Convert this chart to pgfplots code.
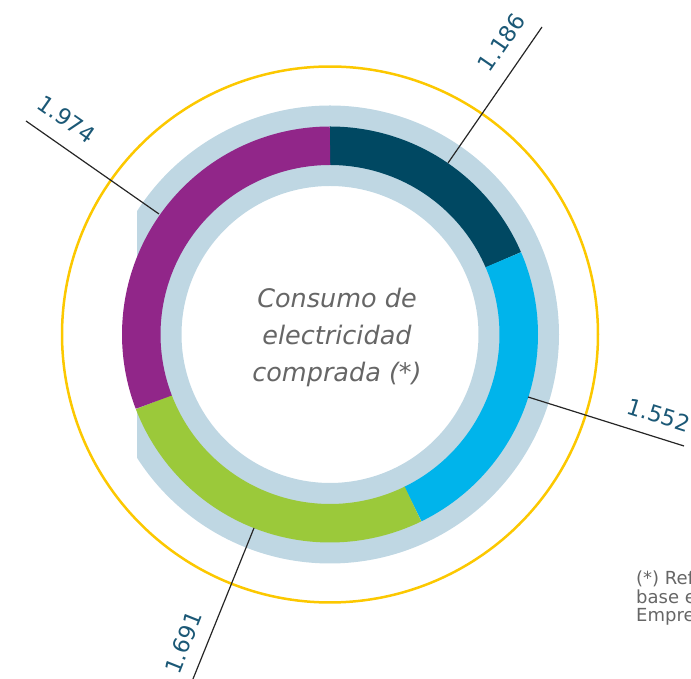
\documentclass[border=0pt]{standalone}
\usepackage{fontspec}
\setmainfont{DejaVu Sans}
\usepackage{pgfplots}
\usepackage{pgfplotstable}
\pgfplotsset{compat=1.18}
\definecolor{cDark}{HTML}{004862}
\definecolor{cCyan}{HTML}{00B4EB}
\definecolor{cGreen}{HTML}{9BC93A}
\definecolor{cPurple}{HTML}{912689}
\definecolor{cRing}{HTML}{BFD7E3}
\definecolor{cYellow}{HTML}{FCC800}
\definecolor{cLabel}{HTML}{1B5876}
\definecolor{cText}{HTML}{666666}

\pgfplotstableread{
value
1186
1552
1691
1974
}\donutdata

\begin{document}
\begin{tikzpicture}
\pgfplotstablegetelem{0}{value}\of\donutdata \let\va\pgfplotsretval
\pgfplotstablegetelem{1}{value}\of\donutdata \let\vb\pgfplotsretval
\pgfplotstablegetelem{2}{value}\of\donutdata \let\vc\pgfplotsretval
\pgfplotstablegetelem{3}{value}\of\donutdata \let\vd\pgfplotsretval
\pgfmathsetmacro{\T}{\va+\vb+\vc+\vd}
\pgfmathsetmacro{\aA}{90}
\pgfmathsetmacro{\aB}{90-360*(\va/\T)}
\pgfmathsetmacro{\aC}{90-360*((\va+\vb)/\T)}
\pgfmathsetmacro{\aD}{90-360*((\va+\vb+\vc)/\T)}
\pgfmathsetmacro{\aE}{-270}
\begin{axis}[at={(0,0)}, anchor=south west, scale only axis,
  width=691pt, height=679pt,
  xmin=-330, xmax=361, ymin=-344.5, ymax=334.5,
  hide axis, clip=false]
% light blue background ring
\addplot[cRing, line width=80.5pt, domain=-2:362, samples=361] ({188.75*cos(x)},{188.75*sin(x)});
% cut on the left side
\addplot[fill=white, draw=none] coordinates {(-232,-131) (-193,-131) (-193,131) (-232,131)};
% yellow circle
\addplot[cYellow, line width=2.5pt, domain=0:361, samples=361] ({268*cos(x)},{268*sin(x)});
% donut segments
\addplot[cDark,   line width=38.5pt, domain=\aB:\aA, samples=80] ({188.75*cos(x)},{188.75*sin(x)});
\addplot[cCyan,   line width=38.5pt, domain=\aC:\aB, samples=80] ({188.75*cos(x)},{188.75*sin(x)});
\addplot[cGreen,  line width=38.5pt, domain=\aD:\aC, samples=80] ({188.75*cos(x)},{188.75*sin(x)});
\addplot[cPurple, line width=38.5pt, domain=\aE:\aD, samples=80] ({188.75*cos(x)},{188.75*sin(x)});
% leader lines
\addplot[black!85, line width=1.2pt] coordinates {(118,171.5) (212,307.5)};
\addplot[black!85, line width=1.2pt] coordinates {(198,-62.5) (354,-111.5)};
\addplot[black!85, line width=1.2pt] coordinates {(-76,-193.5) (-145.5,-365.5)};
\addplot[black!85, line width=1.2pt] coordinates {(-171,120.5) (-304,213.5)};
% labels
\node[rotate=55.4, text=cLabel, inner sep=0pt, font=\fontsize{22.5}{26}\selectfont] at (axis cs:171.5,292) {1.186};
\node[rotate=-17.6, text=cLabel, inner sep=0pt, font=\fontsize{22.5}{26}\selectfont] at (axis cs:329,-80.5) {1.552};
\node[rotate=68.3, text=cLabel, inner sep=0pt, font=\fontsize{22.5}{26}\selectfont] at (axis cs:-146.7,-308) {1.691};
\node[rotate=-35, text=cLabel, inner sep=0pt, font=\fontsize{22.5}{26}\selectfont] at (axis cs:-263.3,215.3) {1.974};
% center text
\node[align=center, text=cText, inner sep=0pt, font=\fontsize{25.5}{37}\selectfont\itshape] at (axis cs:7,-2.5) {Consumo de\\electricidad\\comprada (*)};
% footnote
\node[anchor=base west, text=cText, inner sep=0pt, font=\fontsize{18}{18}\selectfont] at (axis cs:306,-250.5) {(*) Referido a la};
\node[anchor=base west, text=cText, inner sep=0pt, font=\fontsize{18}{18}\selectfont] at (axis cs:306,-268.8) {base eléctrica del};
\node[anchor=base west, text=cText, inner sep=0pt, font=\fontsize{18}{18}\selectfont] at (axis cs:306,-287.2) {Empresa};
\end{axis}
\pgfresetboundingbox
\useasboundingbox (0,0) rectangle (691pt,679pt);
\end{tikzpicture}
\end{document}
